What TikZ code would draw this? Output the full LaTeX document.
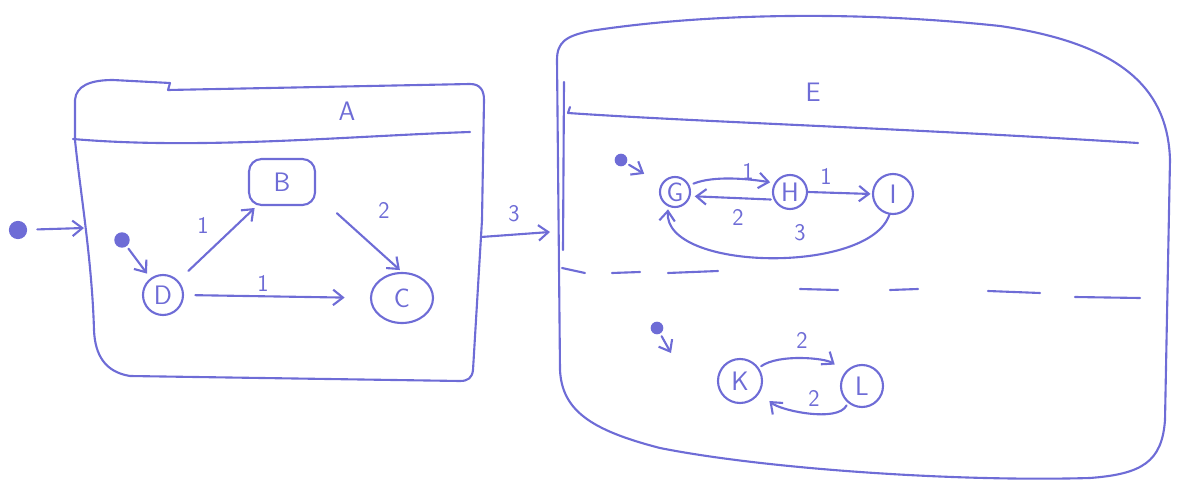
\documentclass[tikz,border=0pt]{standalone}
\usetikzlibrary{arrows.meta,shapes.geometric,calc}
\definecolor{ink}{RGB}{110,108,214}
\tikzset{
  pen/.style={draw=ink, line width=1.5pt, line cap=round, line join=round},
  txt/.style={text=ink, font=\sffamily\fontsize{19}{19}\selectfont},
  st/.style={pen, circle, inner sep=0pt, txt},
  lbl/.style={txt, font=\sffamily\fontsize{17}{17}\selectfont, inner sep=1pt},
  go/.style={pen, -{Straight Barb[length=7pt,width=11pt,line width=1.5pt]}},
  init/.style={circle, fill=ink, inner sep=0pt, minimum size=11pt},
}
\begin{document}
\begin{tikzpicture}[x=0.025cm,y=-0.025cm]
\useasboundingbox (0,0) rectangle (1179,486);

% ---------- superstate A ----------
\draw[pen] (75,140) -- (75,100) .. controls (76,86) and (90,80) .. (113,80)
  -- (170,83) -- (168,90) -- (470,84) .. controls (480,84) and (484,90) .. (484,100)
  -- (482,220) -- (473,370) .. controls (472,378) and (468,381) .. (460,381)
  -- (130,376) .. controls (105,372) and (95,355) .. (94,330)
  .. controls (92,260) and (80,190) .. (75,140) -- cycle;
\draw[pen] (73,139) .. controls (200,150) and (350,136) .. (470,132);
\node[txt] (Aname) at (347,111) {A};

\node[st, minimum size=1cm] (D) at (163,295) {D};
\node[pen, rectangle, rounded corners=9pt, minimum width=1.65cm, minimum height=1.15cm, txt] (B) at (282,182) {B};
\node[pen, ellipse, minimum width=1.55cm, minimum height=1.25cm, inner sep=0pt, txt] (C) at (402,298) {C};

\node[init, minimum size=13pt] (i0) at (18,230) {};
\coordinate (Aleft) at (84,228);
\draw[go, shorten <=7pt] (i0) -- (Aleft);

\node[init] (iA) at (122,240) {};
\draw[go, shorten <=2pt, shorten >=4pt] (iA) -- (D);

\draw[go, shorten <=10pt, shorten >=2pt] (D) -- (B);
\node[lbl] (lDB) at (203,225) {1};
\draw[go, shorten <=20pt, shorten >=2pt] (B.-20) -- (C.north);
\node[lbl] (lBC) at (384,210) {2};
\draw[go, shorten <=8pt, shorten >=18pt] (D.east) -- (C.west);
\node[lbl] (lDC) at (263,283) {1};

% ---------- transition A -> E ----------
\coordinate (Aright) at (481,237);
\coordinate (Eleft) at (550,232);
\draw[go] (Aright) -- (Eleft);
\node[lbl] (lAE) at (514,214) {3};

% ---------- superstate E ----------
\draw[pen] (560,370) -- (557,60) .. controls (557,42) and (566,36) .. (590,31)
  .. controls (700,14) and (850,10) .. (1000,26)
  .. controls (1130,45) and (1168,95) .. (1170,160)
  -- (1165,420) .. controls (1162,462) and (1142,474) .. (1090,478)
  .. controls (950,482) and (760,468) .. (660,448)
  .. controls (590,430) and (562,410) .. (560,370);
\draw[pen] (564,82) -- (563,250);
\draw[pen] (570,107) -- (568,113) .. controls (700,122) and (900,128) .. (1138,143);
\node[txt] (Ename) at (813,92) {E};
% dashed separator of the two regions
\foreach \a/\b/\c/\d in {562/268/585/273, 612/273/640/272, 668/273/718/271,
    800/289/838/290, 890/290/918/289, 988/291/1040/293, 1075/297/1140/298}
  \draw[pen] (\a,\b) -- (\c,\d);

% upper region
\node[st, minimum size=0.75cm] (G) at (675,192) {G};
\node[st, minimum size=0.85cm] (H) at (790,192) {H};
\node[st, minimum size=1cm] (I) at (893,194) {I};

\node[init, minimum size=9pt] (iG) at (621,160) {};
\draw[go, shorten <=2pt, shorten >=14pt] (iG) -- (G.150);

\draw[go, shorten <=3pt, shorten >=3pt] (G.25) .. controls +(25,-10) and +(-25,-4) .. (H.150);
\node[lbl] (lGH) at (748,171) {1};
\draw[go, shorten <=2pt, shorten >=3pt] (H.205) -- (G.-15);
\node[lbl] (lHG) at (738,217) {2};
\draw[go, shorten >=1pt] (H.east) -- (I.west);
\node[lbl] (lHI) at (826,176) {1};
\draw[go, shorten >=2pt] (I.-100) .. controls +(-20,60) and +(-5,65) .. (G.-115);
\node[lbl] (lIG) at (800,233) {3};

% lower region
\node[st, minimum size=1.1cm] (K) at (740,381) {K};
\node[st, minimum size=1.05cm] (L) at (862,386) {L};

\node[init, minimum size=9pt] (iK) at (657,328) {};
\coordinate (Kin) at (671,353);
\draw[go, shorten <=2pt] (iK) -- (Kin);

\draw[go, shorten <=2pt, shorten >=9pt] (K.35) .. controls +(20,-14) and +(-20,-14) .. (L.140);
\node[lbl] (lKL) at (802,340) {2};
\draw[go, shorten <=2pt, shorten >=9pt] (L.-130) .. controls +(-10,20) and +(20,18) .. (K.-30);
\node[lbl] (lLK) at (814,398) {2};
\end{tikzpicture}
\end{document}
